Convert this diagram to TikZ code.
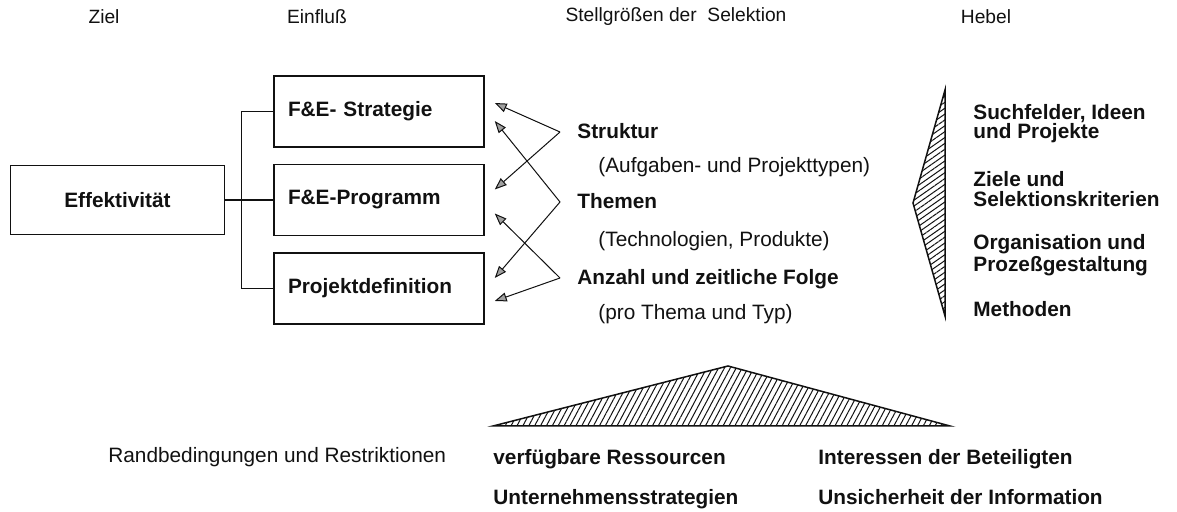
\documentclass[tikz,border=0pt]{standalone}
\usepackage{fontspec}
\setmainfont{Liberation Sans}
\usepackage{tikz}
\usetikzlibrary{arrows.meta,positioning,patterns.meta}
\definecolor{selInk}{HTML}{111111}
\tikzset{
  every picture/.style={font=\fontsize{10.4}{10}\selectfont, text=selInk},
  sel head/.style={anchor=center, inner sep=0pt, font=\fontsize{9.6}{10}\selectfont},
  sel item/.style={anchor=west, inner sep=0pt, text height=1.5ex, text depth=.25ex},
  sel bold/.style={font=\fontsize{10.4}{10}\selectfont\bfseries},
  sel lever/.style={anchor=west, inner sep=0pt, align=left,
    font=\fontsize{10.4}{9.6}\selectfont\bfseries},
  sel goal/.style={draw=selInk, line width=0.75pt, minimum width=107pt,
    minimum height=34.5pt, font=\fontsize{10.4}{10}\selectfont\bfseries},
  sel box/.style={draw=selInk, line width=0.75pt, minimum height=35.5pt,
    text width=91pt, inner xsep=7pt, align=left,
    font=\fontsize{10.4}{10}\selectfont\bfseries},
  sel link/.style={draw=selInk, line width=0.75pt},
  sel arrow/.style={-{Triangle[open,length=6pt,width=4.5pt,fill=selInk!40]},
    draw=selInk, line width=0.5pt},
  sel hatch/.style={draw=selInk, line width=0.75pt}
}

\begin{document}
\begin{tikzpicture}[x=0.5pt,y=-0.5pt]
  \useasboundingbox (0,0) rectangle (1177,512);
  \node[sel head] (ziel) at (104,17) {Ziel};
  \node[sel head] (einfluss) at (317,17) {Einfluß};
  \node[sel head] (stell) at (676,17) {Stellgrößen der\ \ Selektion};
  \node[sel head] (hebel) at (986,17) {Hebel};

  \node[sel box] (strat) at (379,111.5) {F\&E- Strategie};
  \node[sel box, below=8pt of strat] (prog) {F\&E-Programm};
  \node[sel box, below=8pt of prog] (proj) {Projektdefinition};
  \node[sel goal, left=24pt of prog] (eff) {Effektivität};
  \coordinate (fork) at ([xshift=-16pt]prog.west);
  \draw[sel link] (eff.east) -- (prog.west);
  \draw[sel link] (strat.west) -- (fork |- strat.west) -- (fork |- proj.west)
    -- (proj.west);

  \node[sel item, sel bold] (struktur) at (577,132) {Struktur};
  \node[sel item] (aufgaben) at (598,166) {(Aufgaben- und Projekttypen)};
  \node[sel item, sel bold] (themen) at (577,202) {Themen};
  \node[sel item] (techno) at (598,240) {(Technologien, Produkte)};
  \node[sel item, sel bold] (anzahl) at (577,278) {Anzahl und zeitliche Folge};
  \node[sel item] (thema) at (598,313) {(pro Thema und Typ)};
  \coordinate (s apex) at ([xshift=-8.5pt]struktur.west);
  \coordinate (t apex) at ([xshift=-8.5pt]themen.west);
  \coordinate (a apex) at ([xshift=-8.5pt]anzahl.west);
  \draw[sel arrow] (s apex) -- ([xshift=5pt,yshift=4.25pt]strat.east);
  \draw[sel arrow] (s apex) -- ([xshift=5pt,yshift=5.25pt]prog.east);
  \draw[sel arrow] (t apex) -- ([xshift=5pt,yshift=-4.75pt]strat.east);
  \draw[sel arrow] (t apex) -- ([xshift=5pt,yshift=5.25pt]proj.east);
  \draw[sel arrow] (a apex) -- ([xshift=5pt,yshift=-6.75pt]prog.east);
  \draw[sel arrow] (a apex) -- ([xshift=5pt,yshift=-6.25pt]proj.east);

  \draw[sel hatch, pattern={Lines[angle=35,distance=2.4pt,line width=0.5pt]},
    pattern color=selInk] (945,90) -- (913,203) -- (945,316) -- cycle;
  \node[sel lever] (such) at (973,124) {Suchfelder, Ideen\\und Projekte};
  \node[sel lever] (ziele) at (973,189) {Ziele und\\Selektionskriterien};
  \node[sel lever] (orga) at (973,255) {Organisation und\\Prozeßgestaltung};
  \node[sel lever] (meth) at (973,309) {Methoden};

  \draw[sel hatch, pattern={Lines[angle=62,distance=2.6pt,line width=0.5pt]},
    pattern color=selInk] (728,366) -- (950,426) -- (493,426) -- cycle;
  \node[sel item] (rand) at (108,456) {Randbedingungen und Restriktionen};
  \node[sel item, sel bold] (ress) at (493,458) {verfügbare Ressourcen};
  \node[sel item, sel bold] (inter) at (818,458) {Interessen der Beteiligten};
  \node[sel item, sel bold] (untern) at (493,498) {Unternehmensstrategien};
  \node[sel item, sel bold] (unsich) at (818,498) {Unsicherheit der Information};
\end{tikzpicture}
\end{document}
